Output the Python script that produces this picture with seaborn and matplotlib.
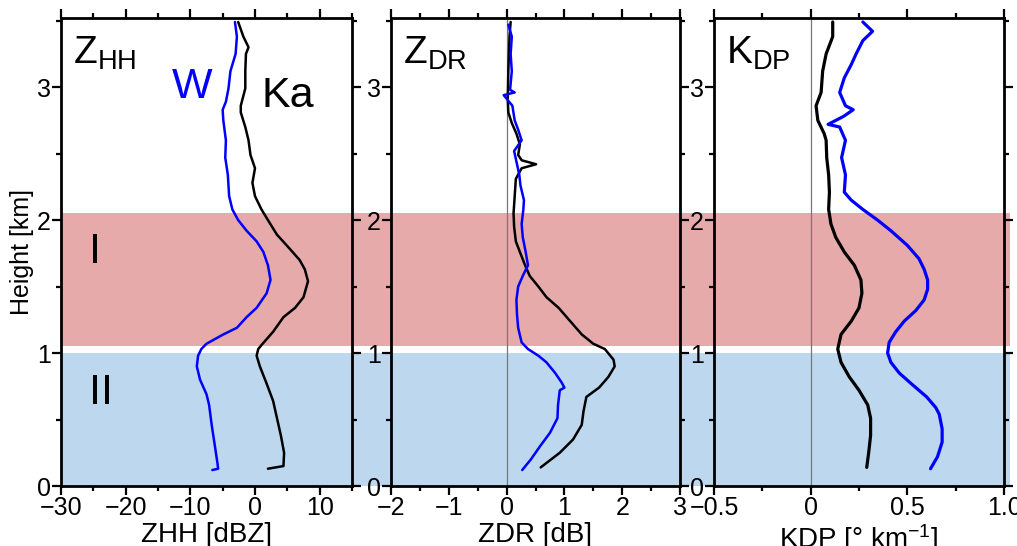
import numpy as np
import pandas as pd
import matplotlib
matplotlib.use("Agg")
import matplotlib.pyplot as plt
import seaborn as sns
from matplotlib.ticker import MultipleLocator

sns.set_theme(style="ticks")
plt.rcParams['font.family'] = ['Liberation Sans', 'DejaVu Sans']
plt.rcParams['mathtext.default'] = 'regular'
plt.rcParams['text.color'] = 'black'
plt.rcParams['axes.labelcolor'] = 'black'

# ---------------- data ----------------
# ZHH
zhh_ka_h = [0.13, 0.15, 0.25, 0.38, 0.51, 0.64, 0.77, 0.90, 0.98, 1.03, 1.06, 1.16, 1.27, 1.34, 1.42,
            1.54, 1.63, 1.70, 1.81, 1.89, 2.00, 2.08, 2.18, 2.28, 2.39, 2.49, 2.60, 2.70, 2.81, 2.86,
            2.99, 3.12, 3.25, 3.30, 3.38, 3.49]
zhh_ka_v = [2.0, 4.4, 4.5, 4.0, 3.4, 2.8, 1.8, 0.75, 0.25, 0.5, 1.0, 2.8, 4.4, 6.2, 7.5,
            8.2, 7.7, 6.9, 4.9, 3.4, 2.0, 1.0, 0.0, -0.4, 0.0, -0.7, -1.0, -1.5, -2.2, -2.2,
            -1.5, -1.5, -1.4, -1.0, -1.8, -2.6]
zhh_w_h = [0.12, 0.13, 0.17, 0.30, 0.46, 0.61, 0.69, 0.80, 0.90, 0.98, 1.03, 1.07, 1.14, 1.19, 1.27,
           1.34, 1.45, 1.55, 1.66, 1.76, 1.84, 1.92, 2.00, 2.08, 2.18, 2.34, 2.47, 2.60, 2.75, 2.83,
           2.89, 2.99, 3.12, 3.25, 3.38, 3.49]
zhh_w_v = [-6.6, -5.7, -5.8, -6.2, -6.7, -7.1, -7.5, -8.5, -9.0, -8.8, -8.3, -7.5, -4.9, -2.8, -1.3,
           0.25, 1.8, 2.4, 2.0, 1.3, 0.25, -1.3, -2.6, -3.5, -4.0, -4.2, -4.6, -4.5, -4.9, -5.0,
           -4.5, -4.1, -3.8, -3.0, -2.8, -3.1]

# ZDR
zdr_ka_h = [0.14, 0.25, 0.35, 0.46, 0.56, 0.67, 0.74, 0.82, 0.90, 0.95, 1.03, 1.07, 1.14, 1.24, 1.29,
            1.34, 1.42, 1.50, 1.58, 1.66, 1.76, 1.84, 1.95, 2.05, 2.18, 2.31, 2.39, 2.42, 2.45, 2.49,
            2.57, 2.65, 2.73, 2.81, 2.91, 3.12, 3.38, 3.49]
zdr_ka_v = [0.59, 0.92, 1.15, 1.30, 1.33, 1.38, 1.60, 1.76, 1.87, 1.85, 1.70, 1.50, 1.30, 1.10, 1.00,
            0.90, 0.69, 0.55, 0.40, 0.32, 0.23, 0.16, 0.13, 0.12, 0.14, 0.16, 0.26, 0.51, 0.26, 0.20,
            0.23, 0.17, 0.09, 0.03, 0.02, 0.03, 0.05, 0.07]
zdr_w_h = [0.12, 0.20, 0.30, 0.40, 0.51, 0.61, 0.72, 0.74, 0.78, 0.85, 0.93, 0.98, 1.03, 1.08, 1.19,
           1.29, 1.40, 1.50, 1.59, 1.66, 1.76, 1.87, 1.97, 2.08, 2.15, 2.26, 2.34, 2.44, 2.52, 2.60,
           2.68, 2.75, 2.86, 2.94, 2.96, 2.98, 3.12, 3.25, 3.38, 3.47]
zdr_w_v = [0.27, 0.42, 0.58, 0.75, 0.88, 0.89, 0.92, 1.00, 0.95, 0.84, 0.69, 0.55, 0.37, 0.26, 0.20,
           0.18, 0.17, 0.20, 0.29, 0.37, 0.33, 0.28, 0.26, 0.29, 0.30, 0.24, 0.22, 0.17, 0.13, 0.26,
           0.20, 0.14, 0.10, -0.05, 0.14, 0.06, 0.09, 0.07, 0.09, 0.03]

# KDP
kdp_ka_h = [0.14, 0.25, 0.38, 0.51, 0.61, 0.72, 0.82, 0.93, 1.03, 1.14, 1.24, 1.34, 1.45, 1.55, 1.66,
            1.76, 1.87, 1.97, 2.08, 2.21, 2.34, 2.47, 2.60, 2.65, 2.75, 2.86, 2.96, 3.12, 3.25, 3.38,
            3.49]
kdp_ka_v = [0.29, 0.30, 0.31, 0.31, 0.295, 0.25, 0.20, 0.157, 0.14, 0.157, 0.21, 0.25, 0.265, 0.26, 0.226,
            0.174, 0.13, 0.105, 0.093, 0.097, 0.093, 0.083, 0.08, 0.07, 0.037, 0.028, 0.054, 0.062, 0.08, 0.114,
            0.114]
kdp_w_h = [0.13, 0.22, 0.33, 0.43, 0.54, 0.59, 0.67, 0.77, 0.85, 0.93, 1.00, 1.08, 1.16, 1.24, 1.32,
           1.40, 1.48, 1.55, 1.63, 1.71, 1.81, 1.92, 2.00, 2.08, 2.15, 2.21, 2.34, 2.47, 2.60, 2.70,
           2.72, 2.78, 2.83, 2.86, 2.96, 3.07, 3.17, 3.25, 3.35, 3.42, 3.49]
kdp_w_v = [0.62, 0.656, 0.68, 0.68, 0.665, 0.647, 0.60, 0.52, 0.458, 0.415, 0.398, 0.406, 0.44, 0.484, 0.544,
           0.587, 0.605, 0.605, 0.587, 0.56, 0.50, 0.415, 0.346, 0.27, 0.21, 0.174, 0.18, 0.16, 0.18, 0.15,
           0.09, 0.17, 0.22, 0.18, 0.15, 0.174, 0.21, 0.235, 0.27, 0.32, 0.27]

panels = [
    dict(key="ZHH", ka=(zhh_ka_v, zhh_ka_h), w=(zhh_w_v, zhh_w_h), xlim=(-30, 15),
         minor=5, xlabel="ZHH [dBZ]", ticks=[-30, -20, -10, 0, 10],
         ticklabels=["\u221230", "\u221220", "\u221210", "0", "10"], title="$Z_{HH}$", zero=False),
    dict(key="ZDR", ka=(zdr_ka_v, zdr_ka_h), w=(zdr_w_v, zdr_w_h), xlim=(-2, 3),
         minor=0.5, xlabel="ZDR [dB]", ticks=[-2, -1, 0, 1, 2, 3],
         ticklabels=["\u22122", "\u22121", "0", "1", "2", "3"], title="$Z_{DR}$", zero=True),
    dict(key="KDP", ka=(kdp_ka_v, kdp_ka_h), w=(kdp_w_v, kdp_w_h), xlim=(-0.5, 1.0),
         minor=0.25, xlabel="KDP [\u00b0 km$^{-1}$]", ticks=[-0.5, 0, 0.5, 1.0],
         ticklabels=["\u22120.5", "0", "0.5", "1.0"], title="$K_{DP}$", zero=True),
]

W, H = 1017, 546
fig = plt.figure(figsize=(W / 100, H / 100), dpi=100)

def frac(l, r, t, b):
    return [l / W, 1 - b / H, (r - l) / W, (b - t) / H]

TOP, BOT = 18, 486
# background band axes spanning all panels
bg = fig.add_axes(frac(61, 1010, TOP, BOT), zorder=0)
bg.set_xlim(0, 1)
bg.set_ylim(0, 3.52)
bg.axhspan(1.055, 2.055, color="#E6AAAA", lw=0)
bg.axhspan(0.0, 1.0, color="#BDD7EE", lw=0)
bg.axis("off")

pos = [(61, 352), (391, 680), (714, 1004)]
for i, (p, (l, r)) in enumerate(zip(panels, pos)):
    ax = fig.add_axes(frac(l, r, TOP, BOT), zorder=2 + i)
    ax.set_facecolor("none")
    if p["zero"]:
        ax.axvline(0, color="#777777", lw=0.9, zorder=1)
    dfk = pd.DataFrame({"x": p["ka"][0], "h": p["ka"][1]})
    dfw = pd.DataFrame({"x": p["w"][0], "h": p["w"][1]})
    sns.lineplot(data=dfk, x="x", y="h", sort=False, estimator=None, orient="y",
                 color="black", lw=1.8 if i < 2 else 2.3, ax=ax, zorder=3)
    sns.lineplot(data=dfw, x="x", y="h", sort=False, estimator=None, orient="y",
                 color="#0000FF", lw=1.8 if i < 2 else 2.3, ax=ax, zorder=3)
    ax.set_xlim(*p["xlim"])
    ax.set_ylim(0, 3.52)
    ax.set_xticks(p["ticks"])
    ax.set_xticklabels(p["ticklabels"])
    ax.xaxis.set_minor_locator(MultipleLocator(p["minor"]))
    ax.set_yticks([0, 1, 2, 3])
    ax.yaxis.set_minor_locator(MultipleLocator(0.5))
    ax.tick_params(axis="both", which="both", direction="out", top=True, right=True,
                   labelsize=18, width=1.6, color="black", labelcolor="black", pad=1)
    ax.tick_params(axis="both", which="major", length=6.5)
    ax.tick_params(axis="both", which="minor", length=3.5)
    for s in ax.spines.values():
        s.set_linewidth(2.0)
        s.set_color("black")
        s.set_visible(True)
    ax.set_xlabel(p["xlabel"], fontsize=20, labelpad=1, color="black")
    if i == 0:
        ax.set_ylabel("Height [km]", fontsize=18, labelpad=2, color="black")
    else:
        ax.set_ylabel("")
    ax.text(0.04, 0.965, p["title"], transform=ax.transAxes, fontsize=28,
            ha="left", va="top", color="black")
    if i == 0:
        ax.text(0.38, 0.81, "W", transform=ax.transAxes, fontsize=31, color="#0000FF",
                ha="left", va="bottom")
        ax.text(0.69, 0.79, "Ka", transform=ax.transAxes, fontsize=31, color="black",
                ha="left", va="bottom")
        ax.text(0.095, 1.76, "I", fontsize=31, ha="left", va="center", color="black",
                transform=ax.get_yaxis_transform())
        ax.text(0.095, 0.70, "II", fontsize=31, ha="left", va="center", color="black",
                transform=ax.get_yaxis_transform())

fig.savefig("out.png", dpi=100)
